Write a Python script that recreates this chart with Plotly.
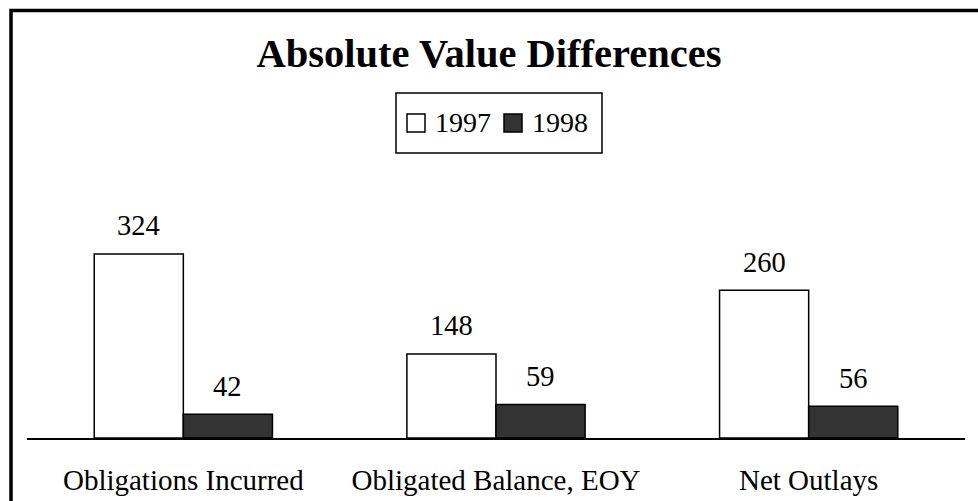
import plotly.graph_objects as go

categories = ["Obligations Incurred", "Obligated Balance, EOY", "Net Outlays"]
years = ["1997", "1998"]
values_1997 = [324, 148, 260]
values_1998 = [42, 59, 56]

W, H = 978, 501
ML, MR, MT, MB = 27, 13, 160, 63
PW, PH = W - ML - MR, H - MT - MB
PX_PER_UNIT = 0.568
YMAX = PH / PX_PER_UNIT

FONT = "Liberation Serif"
DARK = "#333333"


def px(xp):
    return (xp - ML) / PW


def py(yp):
    return (H - MB - yp) / PH


fig = go.Figure()
fig.add_trace(go.Bar(name=years[0], x=categories, y=values_1997,
                     marker=dict(color="white", line=dict(color="black", width=1.5)),
                     showlegend=False, hoverinfo="skip"))
fig.add_trace(go.Bar(name=years[1], x=categories, y=values_1998,
                     marker=dict(color=DARK, line=dict(color="black", width=1.5)),
                     showlegend=False, hoverinfo="skip"))

bar_px = 0.285 * PW / len(categories)
annotations = []
for vals, sign in ((values_1997, -1), (values_1998, 1)):
    for c, v in zip(categories, vals):
        annotations.append(dict(x=c, y=v, xref="x", yref="y", text=str(v),
                                showarrow=False, xshift=sign * bar_px / 2, yshift=28,
                                yanchor="middle", font=dict(family=FONT, size=28.5, color="black")))

# Legend (manual)
shapes = []
shapes.append(dict(type="rect", xref="paper", yref="paper",
                   x0=px(396), x1=px(602), y0=py(153), y1=py(93),
                   line=dict(color="black", width=1.5), fillcolor="white"))
shapes.append(dict(type="rect", xref="paper", yref="paper",
                   x0=px(407), x1=px(425), y0=py(132), y1=py(114),
                   line=dict(color="black", width=1.5), fillcolor="white"))
shapes.append(dict(type="rect", xref="paper", yref="paper",
                   x0=px(504), x1=px(522), y0=py(132), y1=py(114),
                   line=dict(color="black", width=1.5), fillcolor=DARK))
annotations.append(dict(x=px(433), y=py(123), xref="paper", yref="paper", text=years[0],
                        showarrow=False, xanchor="left", yanchor="middle",
                        font=dict(family=FONT, size=28, color="black")))
annotations.append(dict(x=px(530), y=py(123), xref="paper", yref="paper", text=years[1],
                        showarrow=False, xanchor="left", yanchor="middle",
                        font=dict(family=FONT, size=28, color="black")))

# Outer frame (top and left visible)
shapes.append(dict(type="rect", xref="paper", yref="paper",
                   x0=px(11), x1=px(995), y0=py(520), y1=py(10.5),
                   line=dict(color="black", width=3.5), fillcolor="rgba(0,0,0,0)",
                   layer="above"))

fig.update_layout(
    width=W, height=H,
    margin=dict(l=ML, r=MR, t=MT, b=MB, autoexpand=False),
    paper_bgcolor="white", plot_bgcolor="white",
    barmode="group", bargap=0.43, bargroupgap=0,
    title=dict(text="<b>Absolute Value Differences</b>", x=0.5, xref="container",
               y=1 - 53 / H, yref="container", xanchor="center", yanchor="middle",
               font=dict(family=FONT, size=40.5, color="black")),
    font=dict(family=FONT, size=29, color="black"),
    xaxis=dict(showline=True, linecolor="black", linewidth=2, ticks="outside",
               ticklen=15, tickcolor="rgba(0,0,0,0)", showgrid=False, zeroline=False,
               automargin=False, fixedrange=True,
               tickfont=dict(family=FONT, size=29, color="black")),
    yaxis=dict(range=[0, YMAX], visible=False, showgrid=False, zeroline=False,
               automargin=False, fixedrange=True),
    annotations=annotations,
    shapes=shapes,
    showlegend=False,
    hovermode=False,
)

fig.write_html("out.html", config={"displayModeBar": False, "staticPlot": True},
               post_script="document.body.style.margin='0';document.body.style.overflow='hidden';")
